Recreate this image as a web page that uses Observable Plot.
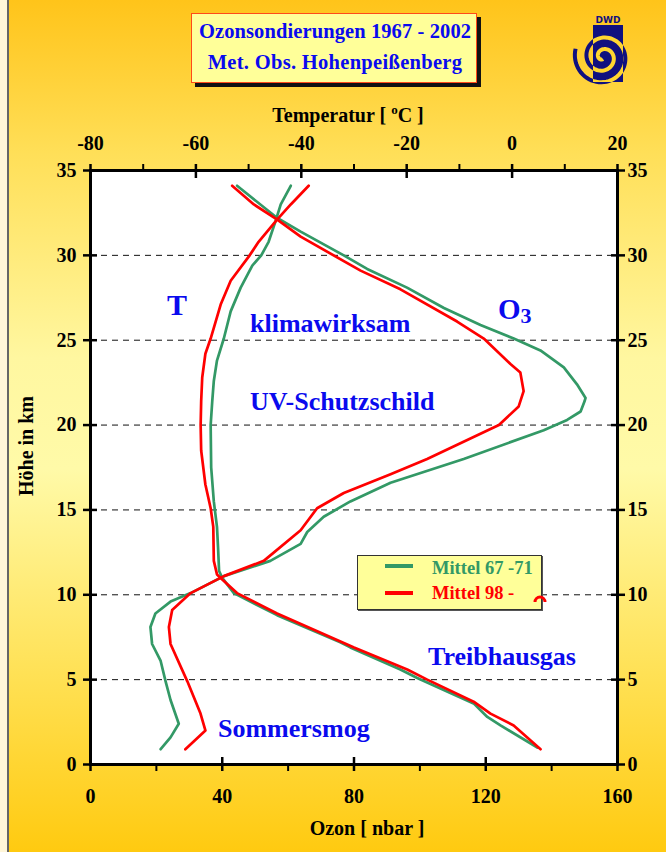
<!DOCTYPE html>
<html><head><meta charset="utf-8">
<script src="https://cdn.jsdelivr.net/npm/d3@7"></script>
<script src="https://cdn.jsdelivr.net/npm/@observablehq/plot@0.6"></script>
<style>
body{margin:0;background:#fff;}
#wrap{position:relative;width:666px;height:852px;overflow:hidden;
 background:linear-gradient(to bottom,#FFC41A 0%,#FFDF58 18%,#FFF7A0 42%,#FFFAA8 55%,#FFE052 80%,#FFCA10 100%);
 font-family:"Liberation Serif","Times New Roman",serif;font-weight:bold;}
#plot{position:absolute;left:0;top:0;}
.abs{position:absolute;white-space:nowrap;line-height:1;}
.blue{color:#0a0aee;}
</style></head>
<body>
<div id="wrap">
 <div class="abs" style="left:0;top:0;width:7px;height:852px;background:#FFF6D8;"></div>
 <div class="abs" style="left:7px;top:0;width:2px;height:852px;background:#666;"></div>
 <div id="plot"></div>
 <div class="abs" style="left:191px;top:13px;width:284px;height:68px;background:#FFFF99;border:1px solid #FF4A1A;box-shadow:4px 4px 0 #111;"></div>
 <div class="abs blue" style="left:191px;top:21px;width:288px;text-align:center;font-size:20.5px;letter-spacing:0.1px;">Ozonsondierungen 1967 - 2002</div>
 <div class="abs blue" style="left:191px;top:52px;width:288px;text-align:center;font-size:20.5px;letter-spacing:0.3px;">Met. Obs. Hohenpeißenberg</div>
 <svg class="abs" id="logo" style="left:560px;top:10px;" width="100" height="80"></svg>
 <div class="abs" style="left:198px;top:103px;width:300px;text-align:center;font-size:20px;">Temperatur [ <sup style="font-size:13px;vertical-align:8px;">o</sup>C ]</div>
 <div class="abs" style="left:217px;top:818px;width:300px;text-align:center;font-size:20px;">Ozon [ nbar ]</div>
 <div class="abs" style="left:26px;top:446px;font-size:20px;transform:translate(-50%,-50%) rotate(-90deg);">Höhe in km</div>
 <div class="abs blue" style="left:167px;top:290px;font-size:30px;">T</div>
 <div class="abs blue" style="left:498px;top:295px;font-size:29px;">O<span style="font-size:22px;position:relative;top:4px;">3</span></div>
 <div class="abs blue" style="left:250px;top:311px;font-size:26px;">klimawirksam</div>
 <div class="abs blue" style="left:250px;top:389px;font-size:26px;">UV-Schutzschild</div>
 <div class="abs blue" style="left:428px;top:644px;font-size:26px;">Treibhausgas</div>
 <div class="abs blue" style="left:218px;top:716px;font-size:26px;">Sommersmog</div>
 <div class="abs" style="left:357px;top:555px;width:183px;height:53px;background:#FFFF99;border:1px solid #333;box-shadow:1px 1px 0 #555;"></div>
 <div class="abs" style="left:385px;top:564px;width:28px;height:4px;background:#339966;"></div>
 <div class="abs" style="left:385px;top:591px;width:28px;height:4px;background:#FF0000;"></div>
 <div class="abs" style="left:432px;top:559px;font-size:18.5px;color:#339966;">Mittel 67 -71</div>
 <div class="abs" style="left:432px;top:584px;font-size:18.5px;color:#FF0000;">Mittel 98 -</div>
 <svg class="abs" style="left:532px;top:592px;" width="16" height="12"><path d="M3,10 A5,5 0 0 1 13,10" fill="none" stroke="#FF0000" stroke-width="3"/></svg>
</div>
<script>
// ---- data (height km, value) ----
const ozonOldH = [0.9,1.6,2.4,3.8,4.9,6.1,7.1,8.1,8.9,9.6,10.1,11.1,12.0,13.0,13.7,14.6,15.5,16.6,18.0,19.7,20.3,20.8,21.4,21.6,22.4,23.4,24.4,25.1,25.9,26.9,28.1,29.2,30.0,31.4,32.2,34.1];
const ozonOldV = [21.3,24.3,26.8,24.3,22.8,21.3,18.7,18.2,19.7,24.3,30.4,40.5,54.6,63.8,65.8,70.8,78.9,91.1,113.3,137.6,144.7,148.8,150.0,150.3,147.7,143.7,136.6,128.5,118.4,107.3,96.1,84.0,76.9,63.8,56.7,44.5];
const ozonNewH = [0.9,2.0,3.0,4.9,7.1,8.1,9.1,10.1,11.1,12.0,13.8,15.1,16.0,17.1,18.0,20.0,21.1,22.0,23.1,23.6,25.1,26.1,28.0,29.1,31.1,32.1,33.0,34.1];
const ozonNewV = [28.8,34.9,33.4,29.4,24.3,23.8,24.8,30.4,40.5,52.6,63.8,68.8,76.9,91.1,102.2,124.0,130.0,131.5,130.5,127.5,119.4,111.3,94.1,82.0,63.8,56.7,49.6,43.0];
const tempOldH = [1.0,2.3,2.8,3.6,5.1,5.6,6.9,7.2,8.8,10.1,11.0,11.4,12.8,14.0,15.5,17.5,20.0,21.4,22.6,23.8,25.1,26.7,28.1,29.4,30.0,30.8,32.0,33.0,34.1];
const tempOldV = [4.8,-2.2,-4.7,-7.3,-18.0,-21.2,-30.7,-32.6,-44.6,-52.8,-55.0,-55.6,-55.8,-56.0,-56.6,-57.1,-57.2,-56.9,-56.6,-56.0,-54.7,-53.4,-51.5,-49.3,-47.6,-46.2,-44.9,-43.9,-42.0];
const tempNewH = [0.9,2.3,3.0,3.7,5.0,5.6,6.9,8.9,10.1,10.9,11.2,12.0,14.0,15.1,16.5,18.5,20.0,21.4,22.8,24.2,25.1,27.1,28.5,30.0,30.8,32.1,33.0,34.1];
const tempNewV = [5.4,0.3,-4.1,-7.3,-16.1,-19.9,-30.0,-44.6,-52.2,-55.0,-56.0,-56.6,-56.7,-57.2,-58.2,-59.0,-59.1,-59.0,-58.8,-58.2,-57.2,-55.3,-53.4,-49.8,-48.1,-44.6,-42.0,-38.6];
const kmTicks = [0,5,10,15,20,25,30,35];
const gridKm = [5,10,15,20,25,30];
const ozonMajor = [0,40,80,120,160];
const ozonMinor = [20,60,100,140];
const tempMajor = [-80,-60,-40,-20,0,20];
const tempMinor = [-70,-50,-30,-10,10];

const green = "#339966", red = "#FF0000";
// temperature axis (-80..20 °C) shares the ozone x-scale (0..160 nbar)
const tToX = t => (t + 80) * 1.6;
const xToT = x => String(Math.round(x / 1.6 - 80));
const series = (H, V) => H.map((h, i) => ({h, v: V[i]}));
const none = () => "";
const fnt = {fontSize: 20, fontWeight: "bold"};

const chart = Plot.plot({
  width: 666, height: 852,
  marginLeft: 90, marginRight: 49, marginTop: 170, marginBottom: 88,
  style: {background: "transparent", fontFamily: "'Liberation Serif', serif", color: "black", overflow: "visible"},
  x: {domain: [0, 160]},
  y: {domain: [0, 35]},
  marks: [
    Plot.frame({fill: "white", stroke: "none"}),
    Plot.ruleY(gridKm, {stroke: "#111", strokeWidth: 1, strokeDasharray: "6,5"}),
    Plot.line(series(tempOldH, tempOldV), {x: d => tToX(d.v), y: "h", stroke: green, strokeWidth: 2.7}),
    Plot.line(series(ozonOldH, ozonOldV), {x: "v", y: "h", stroke: green, strokeWidth: 2.7}),
    Plot.line(series(tempNewH, tempNewV), {x: d => tToX(d.v), y: "h", stroke: red, strokeWidth: 2.7}),
    Plot.line(series(ozonNewH, ozonNewV), {x: "v", y: "h", stroke: red, strokeWidth: 2.7}),
    Plot.frame({stroke: "black", strokeWidth: 3}),
    // bottom axis (Ozon)
    Plot.axisX(ozonMajor, {anchor: "bottom", tickSize: 14, dy: -7, strokeWidth: 2.5, tickFormat: none, label: null}),
    Plot.axisX(ozonMinor, {anchor: "bottom", tickSize: 7, strokeWidth: 2, tickFormat: none, label: null}),
    Plot.axisX(ozonMajor, {anchor: "bottom", tickSize: 0, tickPadding: 24, label: null, ...fnt}),
    // top axis (Temperatur)
    Plot.axisX(tempMajor.map(tToX), {anchor: "top", tickSize: 14, dy: 7, strokeWidth: 2.5, tickFormat: none, label: null}),
    Plot.axisX(tempMinor.map(tToX), {anchor: "top", tickSize: 7, strokeWidth: 2, tickFormat: none, label: null}),
    Plot.axisX(tempMajor.map(tToX), {anchor: "top", tickSize: 0, tickPadding: 21, tickFormat: xToT, label: null, ...fnt}),
    // left / right axes (Höhe)
    Plot.axisY(kmTicks, {anchor: "left", tickSize: 14, dx: 7, strokeWidth: 2.5, tickFormat: none, label: null}),
    Plot.axisY(kmTicks, {anchor: "left", tickSize: 0, tickPadding: 14, label: null, ...fnt}),
    Plot.axisY(kmTicks, {anchor: "right", tickSize: 14, dx: -7, strokeWidth: 2.5, tickFormat: none, label: null}),
    Plot.axisY(kmTicks, {anchor: "right", tickSize: 0, tickPadding: 10, label: null, ...fnt})
  ]
});
document.getElementById("plot").appendChild(chart);

// logo (decoration)
const logo = d3.select("#logo");
const navy = "#10107f";
const defs = logo.append("defs");
defs.append("clipPath").attr("id", "rc").append("rect").attr("x", 33).attr("y", 15).attr("width", 30).attr("height", 57);
logo.append("rect").attr("x", 33).attr("y", 15).attr("width", 30).attr("height", 57).attr("fill", navy);
const sp = d3.range(0, 4.6 * Math.PI, 0.1).map(a => {
  const r = 2 + a * 1.85;
  return [43 + r * Math.cos(a + 1.6), 47 + r * Math.sin(a + 1.6)];
});
const spath = d3.line()(sp);
logo.append("path").attr("d", spath).attr("fill", "none").attr("stroke", navy).attr("stroke-width", 4);
logo.append("path").attr("d", spath).attr("fill", "none").attr("stroke", "#FFD630").attr("stroke-width", 4).attr("clip-path", "url(#rc)");
logo.append("text").attr("x", 48).attr("y", 13).attr("text-anchor", "middle").attr("font-size", 9).attr("font-family", "DejaVu Sans").attr("font-weight", "bold").attr("fill", navy).text("DWD");
</script>
</body></html>
